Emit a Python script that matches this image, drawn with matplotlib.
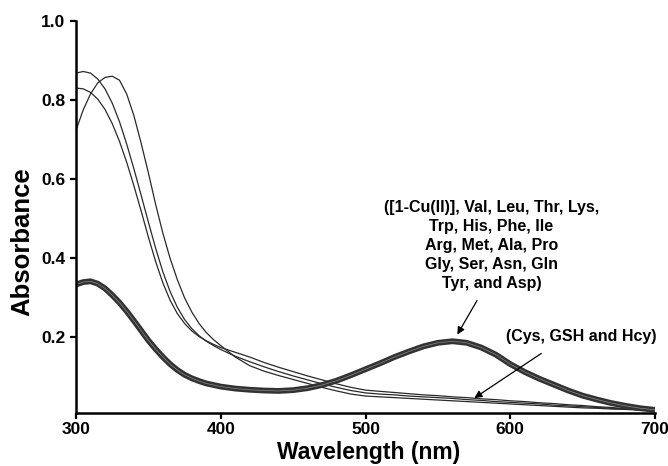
import numpy as np
import matplotlib
matplotlib.use("Agg")
import matplotlib.pyplot as plt

plt.rcParams['font.family'] = ['Liberation Sans', 'DejaVu Sans']
plt.rcParams['font.weight'] = 'bold'

# wavelength grid (nm): 5 nm steps up to 400, 10 nm after
wavelength = [300, 305, 310, 315, 320, 325, 330, 335, 340, 345, 350,
              355, 360, 365, 370, 375, 380, 385, 390, 395, 400,
              410, 420, 430, 440, 450, 460, 470, 480, 490, 500,
              510, 520, 530, 540, 550, 560, 570, 580, 590, 600,
              610, 620, 630, 640, 650, 660, 670, 680, 690, 700]

# thiol-treated spectra (Cys, GSH, Hcy)
abs_cys = [0.868, 0.872, 0.868, 0.853, 0.828, 0.792, 0.745, 0.688, 0.625, 0.558, 0.490,
           0.424, 0.364, 0.314, 0.274, 0.243, 0.220, 0.202, 0.188, 0.177, 0.167,
           0.150, 0.136, 0.123, 0.111, 0.100, 0.090, 0.080, 0.071, 0.063, 0.057,
           0.054, 0.052, 0.049, 0.047, 0.045, 0.043, 0.040, 0.038, 0.035, 0.033,
           0.031, 0.029, 0.026, 0.024, 0.022, 0.020, 0.018, 0.016, 0.014, 0.012]
abs_gsh = [0.830, 0.828, 0.819, 0.802, 0.776, 0.740, 0.695, 0.642, 0.582, 0.518, 0.452,
           0.390, 0.336, 0.292, 0.258, 0.233, 0.214, 0.200, 0.189, 0.180, 0.172,
           0.160, 0.148, 0.134, 0.122, 0.111, 0.100, 0.090, 0.080, 0.071, 0.064,
           0.061, 0.058, 0.055, 0.052, 0.050, 0.047, 0.045, 0.042, 0.040, 0.037,
           0.035, 0.032, 0.030, 0.027, 0.025, 0.022, 0.020, 0.017, 0.015, 0.013]
abs_hcy = [0.723, 0.775, 0.815, 0.843, 0.857, 0.860, 0.850, 0.815, 0.760, 0.690, 0.615,
           0.535, 0.462, 0.398, 0.344, 0.298, 0.262, 0.233, 0.210, 0.192, 0.177,
           0.148, 0.126, 0.112, 0.101, 0.091, 0.081, 0.071, 0.062, 0.054, 0.049,
           0.047, 0.045, 0.043, 0.041, 0.039, 0.037, 0.035, 0.033, 0.031, 0.029,
           0.027, 0.025, 0.023, 0.021, 0.019, 0.018, 0.016, 0.015, 0.013, 0.012]

# [1-Cu(II)] alone and with the other amino acids (all overlap)
abs_cu = [0.332, 0.338, 0.340, 0.334, 0.322, 0.305, 0.286, 0.264, 0.240, 0.215, 0.190,
          0.168, 0.148, 0.130, 0.115, 0.103, 0.094, 0.087, 0.081, 0.077, 0.073,
          0.068, 0.065, 0.063, 0.062, 0.064, 0.069, 0.077, 0.088, 0.102, 0.117,
          0.132, 0.148, 0.162, 0.175, 0.184, 0.188, 0.184, 0.172, 0.154, 0.130,
          0.110, 0.093, 0.078, 0.063, 0.050, 0.040, 0.031, 0.024, 0.018, 0.014]

label_others = "([1-Cu(II)], Val, Leu, Thr, Lys,\nTrp, His, Phe, Ile\nArg, Met, Ala, Pro\nGly, Ser, Asn, Gln\nTyr, and Asp)"
label_thiols = "(Cys, GSH and Hcy)"

fig = plt.figure(figsize=(6.68, 4.66), dpi=100)
ax = fig.add_axes([0.1138, 0.1137, 0.8668, 0.8412])

for y in (abs_cys, abs_gsh, abs_hcy):
    ax.plot(wavelength, y, color='#2a2a2a', lw=0.9)

# thick band of overlapping spectra
ax.plot(wavelength, abs_cu, color='#333333', lw=4.2, solid_capstyle='butt')
ax.plot(wavelength, abs_cu, color='#8a8a8a', lw=0.5)

ax.set_xlim(300, 700)
ax.set_ylim(0.006, 1.0)
ax.set_xticks([300, 400, 500, 600, 700])
ax.set_yticks([0.2, 0.4, 0.6, 0.8, 1.0])
ax.set_yticklabels(['0.2', '0.4', '0.6', '0.8', '1.0'])

for s in ['top', 'right']:
    ax.spines[s].set_visible(False)
for s in ['left', 'bottom']:
    ax.spines[s].set_linewidth(1.8)
ax.tick_params(direction='out', length=4.5, width=1.6, labelsize=12.5)
ax.tick_params(axis='x', pad=2)
ax.tick_params(axis='y', pad=3)
for lab in ax.get_xticklabels() + ax.get_yticklabels():
    lab.set_fontweight('bold')

ax.set_xlabel('Wavelength (nm)', fontsize=16.5, fontweight='bold')
ax.xaxis.set_label_coords(0.506, -0.071)
ax.set_ylabel('Absorbance', fontsize=18.5, fontweight='bold')
ax.yaxis.set_label_coords(-0.093, 0.437)
ax.yaxis.label.set_va('center')

ax.text(587, 0.431, label_others, ha='center', va='center', multialignment='center',
        fontsize=11.5, fontweight='bold', linespacing=1.34)
ax.text(649, 0.200, label_thiols, ha='center', va='center',
        fontsize=11.5, fontweight='bold', clip_on=False)

arrow = dict(arrowstyle='-|>', color='black', lw=0.9, mutation_scale=11,
             shrinkA=0, shrinkB=0)
ax.annotate('', xy=(563.4, 0.205), xytext=(577, 0.291), arrowprops=arrow)
ax.annotate('', xy=(575.2, 0.044), xytext=(621.4, 0.157), arrowprops=arrow)

plt.savefig('out.png', dpi=100)
